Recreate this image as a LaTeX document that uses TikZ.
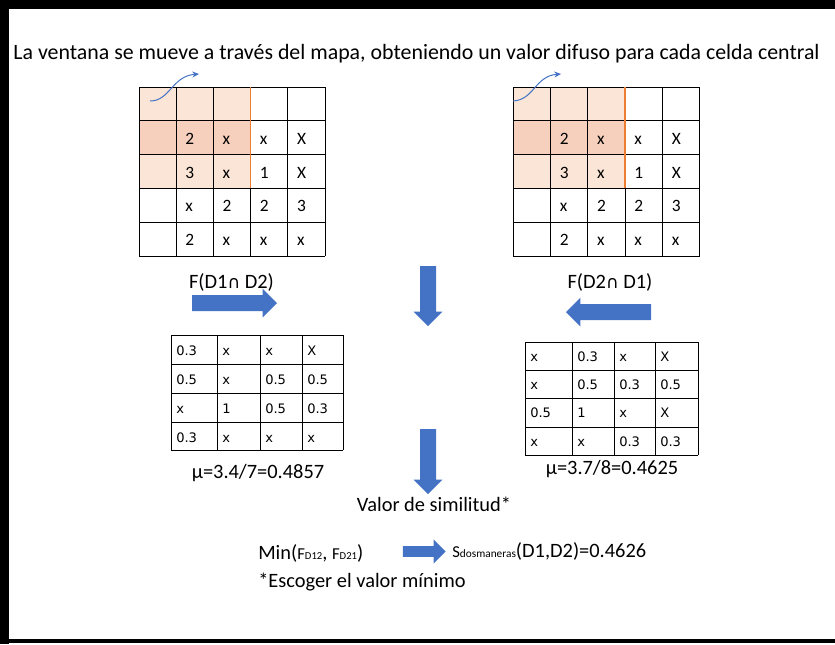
\documentclass[tikz,border=0pt]{standalone}
\usepackage{fontspec}
\setmainfont{Carlito}
\newfontfamily\tabfont{DejaVu Sans}
\newfontfamily\symfont{DejaVu Sans}
\usepackage{xcolor}
\usetikzlibrary{shapes.arrows, arrows.meta, positioning, calc}

\definecolor{winlight}{HTML}{FBE5D6}
\definecolor{windark}{HTML}{F6D0BD}
\definecolor{winedge}{HTML}{ED7D31}
\definecolor{officeblue}{HTML}{4472C4}

\tikzset{
  cell/.style={draw=black, line width=0.75pt},
  celltext/.style={anchor=base west, font=\fontsize{13}{15}\selectfont, inner sep=0pt},
  tabtext/.style={anchor=base west, font=\tabfont\fontsize{9.8}{11}\selectfont, inner sep=0pt},
  txt/.style={font=\fontsize{15.3}{18}\selectfont, inner sep=0pt},
  blockarrow/.style={single arrow, fill=officeblue, draw=none, inner xsep=0pt,
    inner ysep=5.8pt, text height=0pt, text depth=0pt, single arrow head extend=4.8pt},
  curvedarrow/.style={officeblue, line width=0.75pt, -{Stealth[length=5pt,width=4.5pt]}}
}

\begin{document}
\begin{tikzpicture}[x=0.75pt, y=-0.75pt]
\useasboundingbox (0,0) rectangle (835,644);
% Frame
\fill[black] (0,0) rectangle (835,9);
\fill[black] (0,0) rectangle (9,644);
\fill[black] (0,639) rectangle (835,643);

\node[txt, font=\fontsize{16.4}{19}\selectfont, anchor=base] (title) at (416.5,59) {La ventana se mueve a trav\'es del mapa, obteniendo un valor difuso para cada celda central};

% Left map D1
\begin{scope}[shift={(139,87)}]
\fill[winlight] (0,0) rectangle (3*37.2,3*33.8);
\fill[windark] (0,33.8) rectangle (3*37.2,2*33.8);
\foreach \i in {0,...,5} {
    \draw[cell] (\i*37.2,0) -- (\i*37.2,5*33.8);
    \draw[cell] (0,\i*33.8) -- (5*37.2,\i*33.8);
}
\draw[winedge, line width=1.1pt] (3*37.2,0) -- (3*37.2,3*33.8);
\foreach \r/\c/\t in {1/1/2, 1/2/x, 1/3/x, 1/4/X, 2/1/3, 2/2/x, 2/3/1, 2/4/X,
    3/1/x, 3/2/2, 3/3/2, 3/4/3, 4/1/2, 4/2/x, 4/3/x, 4/4/x}
    \node[celltext] (ml-\r-\c) at (\c*37.2+9,\r*33.8+23.4) {\t};
\end{scope}
\coordinate (wl-s) at (150,101);
\coordinate (wl-e) at (199,74);
\draw[curvedarrow] (wl-s) .. controls (170,101) and (172,76) .. (wl-e);

% Right map D2
\begin{scope}[shift={(513.3,87)}]
\fill[winlight] (0,0) rectangle (3*37.3,3*33.8);
\fill[windark] (0,33.8) rectangle (3*37.3,2*33.8);
\foreach \i in {0,...,5} {
    \draw[cell] (\i*37.3,0) -- (\i*37.3,5*33.8);
    \draw[cell] (0,\i*33.8) -- (5*37.3,\i*33.8);
}
\draw[winedge, line width=1.1pt] (3*37.3,0) -- (3*37.3,3*33.8);
\foreach \r/\c/\t in {1/1/2, 1/2/x, 1/3/x, 1/4/X, 2/1/3, 2/2/x, 2/3/1, 2/4/X,
    3/1/x, 3/2/2, 3/3/2, 3/4/3, 4/1/2, 4/2/x, 4/3/x, 4/4/x}
    \node[celltext] (mr-\r-\c) at (\c*37.3+9,\r*33.8+23.4) {\t};
\end{scope}
\coordinate (wr-s) at (513,101);
\coordinate (wr-e) at (561,74);
\draw[curvedarrow] (wr-s) .. controls (534,100) and (535,76) .. (wr-e);

\node[txt, anchor=base] (fl) at (231.5,288) {F(D1{\symfont\fontsize{13}{15}\selectfont ∩} D2)};
\node[txt, anchor=base] (fr) at (610,288) {F(D2{\symfont\fontsize{13}{15}\selectfont ∩} D1)};

% Block arrows
\node[blockarrow, minimum height=63.75pt] (arl) at (230.5,303) {};
\node[blockarrow, minimum height=63.75pt, rotate=180] (arr) at (612.5,312) {};
\node[blockarrow, minimum height=45pt, rotate=-90] (ard1) at (428,292) {};
\node[blockarrow, minimum height=48.75pt, rotate=-90] (ard2) at (428,457.5) {};
\node[blockarrow, minimum height=32pt, inner ysep=3.9pt, single arrow head extend=4.9pt] (arm) at (421.5,551.5) {};

% Left fuzzy table
\foreach \x in {171,217,260,302,343}
    \draw[cell] (\x,335) -- (\x,450);
\foreach \y in {335,364,393,422,450}
    \draw[cell] (171,\y) -- (343,\y);
\foreach \row [count=\r] in {{0.3,x,x,X},{0.5,x,0.5,0.5},{x,1,0.5,0.3},{0.3,x,x,x}}
    \foreach \t [count=\c] in \row {
        \pgfmathsetmacro\cx{{171,217,260,302}[\c-1]+5}
        \pgfmathsetmacro\cy{{335,364,393,422}[\r-1]+20}
        \node[tabtext] (tl-\r-\c) at (\cx,\cy) {\t};
    }

% Right fuzzy table
\foreach \x in {525,572,614,655,698}
    \draw[cell] (\x,342) -- (\x,455);
\foreach \y in {342,370,398,427,455}
    \draw[cell] (525,\y) -- (698,\y);
\foreach \row [count=\r] in {{x,0.3,x,X},{x,0.5,0.3,0.5},{0.5,1,x,X},{x,x,0.3,0.3}}
    \foreach \t [count=\c] in \row {
        \pgfmathsetmacro\cx{{525,572,614,655}[\c-1]+5}
        \pgfmathsetmacro\cy{{342,370,398,427}[\r-1]+19.5}
        \node[tabtext] (tr-\r-\c) at (\cx,\cy) {\t};
    }

\node[txt, anchor=base] (mul) at (258,478) {μ=3.4/7=0.4857};
\node[txt, anchor=base] (mur) at (612,474) {μ=3.7/8=0.4625};
\node[txt, anchor=base] (sim) at (434,511) {Valor de similitud*};

\node[txt, anchor=base west] (minf) at (258,559)
    {Min({\fontsize{12.5}{14}\selectfont F}{\fontsize{8}{9}\selectfont D12}, {\fontsize{12.5}{14}\selectfont F}{\fontsize{8}{9}\selectfont D21})};
\node[txt, anchor=base west] (res) at (452,557)
    {{\fontsize{12.5}{14}\selectfont S}{\fontsize{8.5}{9}\selectfont dosmaneras}(D1,D2)=0.4626};
\node[txt, anchor=base west] (note) at (258,587) {*Escoger el valor m\'inimo};
\end{tikzpicture}
\end{document}
